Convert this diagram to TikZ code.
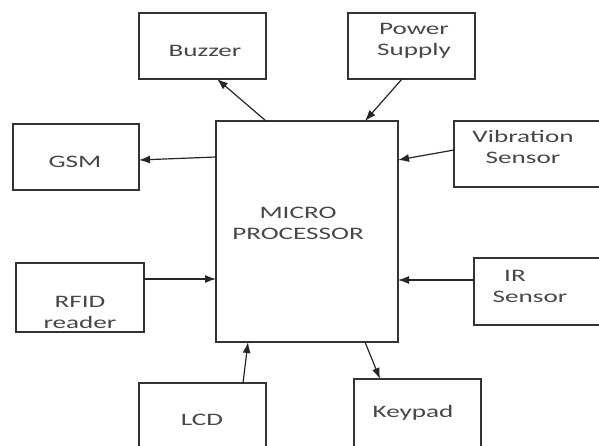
\documentclass[tikz,border=0pt]{standalone}
\usepackage{fontspec}
\setmainfont{Carlito}[FakeStretch=1.55]
\usetikzlibrary{calc,arrows.meta}
\begin{document}
\begin{tikzpicture}[x=1pt,y=-1pt,
  box/.style={draw=black!80, line width=1.3pt, rectangle, inner sep=0pt, outer sep=0pt, anchor=north west, fill=white},
  txt/.style={text=black!72, font=\fontsize{17.5}{21}\selectfont, align=center, inner sep=0pt},
  conn/.style={draw=black!85, line width=1.2pt, -{Latex[length=11pt,width=8pt]}}]
\useasboundingbox (0,0) rectangle (599,446);
\fill[white] (0,0) rectangle (599,446);
\clip (0,0) rectangle (599,446);
% boxes
\node[box, minimum width=127pt, minimum height=66pt] (buzzer) at (139,13) {};
\node[box, minimum width=127pt, minimum height=66pt] (power) at (348,13) {};
\node[box, minimum width=126pt, minimum height=66pt] (gsm) at (13,124) {};
\node[box, minimum width=146pt, minimum height=66pt] (vib) at (454,121) {};
\node[box, minimum width=182pt, minimum height=221pt] (micro) at (216,121) {};
\node[box, minimum width=128pt, minimum height=69pt] (rfid) at (16,263) {};
\node[box, minimum width=126pt, minimum height=67pt] (ir) at (474,258) {};
\node[box, minimum width=127pt, minimum height=80pt] (lcd) at (139,383) {};
\node[box, minimum width=127pt, minimum height=75pt] (keypad) at (354,379) {};
% texts
\node[txt] (buzzert) at (205,51) {Buzzer};
\node[txt] (powert) at (414,41) {Power\\Supply};
\node[txt] (gsmt) at (75,162) {GSM};
\node[txt] (vibt) at (523,147) {Vibration\\Sensor};
\node[txt] (microt) at (298,223) {MICRO\\PROCESSOR};
\node[txt] (rfidt) at (80,312) {RFID\\reader};
\node[txt] (irt) at (530,286) {IR\hspace*{30pt}\\Sensor};
\node[txt] (lcdt) at (202,420) {LCD};
\node[txt] (keypadt) at (413,413) {Keypad};
% connectors
\draw[conn] ($(micro.north west)+(50,0)$) -- ($(buzzer.south west)+(78,0)$);
\draw[conn] ($(power.south west)+(54,0)$) -- ($(micro.north west)+(149,0)$);
\draw[conn] ($(micro.north west)+(0,36)$) -- ($(gsm.north east)+(0,36)$);
\draw[conn] ($(vib.north west)+(0,29)$) -- ($(micro.north east)+(0,39)$);
\draw[conn] ($(rfid.north east)+(0,16)$) -- ($(micro.north west)+(0,158)$);
\draw[conn] ($(ir.north west)+(0,22)$) -- ($(micro.north east)+(0,159)$);
\draw[conn] ($(lcd.north west)+(104,0)$) -- ($(micro.south west)+(32,0)$);
\draw[conn] ($(micro.south west)+(149,0)$) -- ($(keypad.north west)+(26,0)$);
\end{tikzpicture}
\end{document}
